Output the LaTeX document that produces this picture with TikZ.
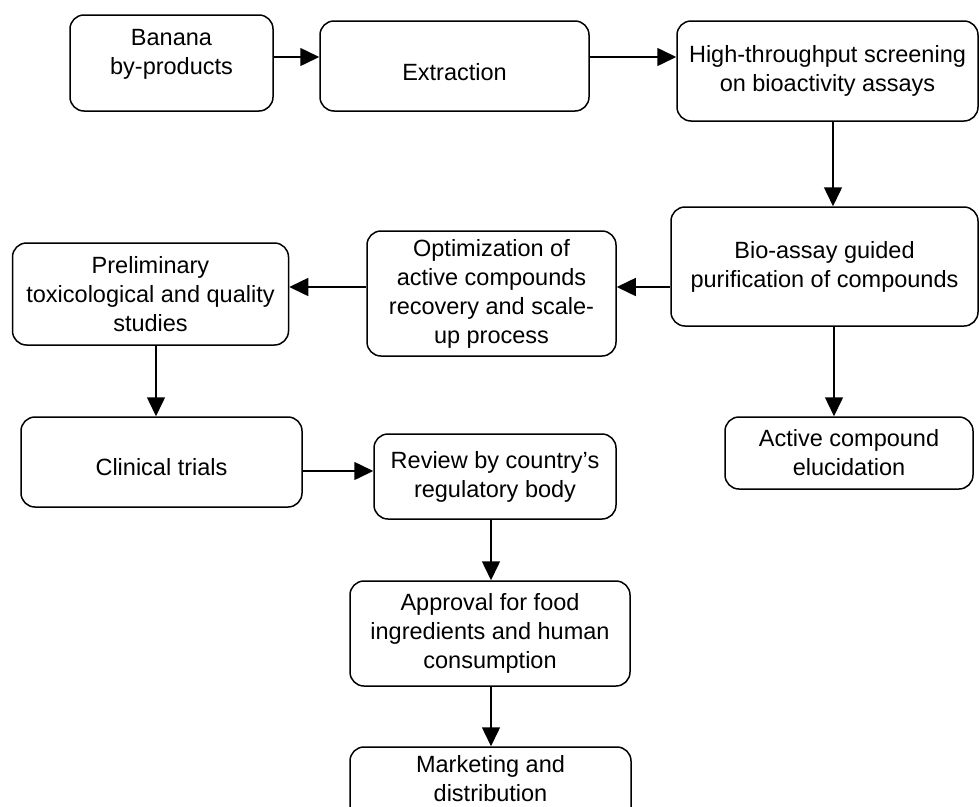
\documentclass[tikz,border=0pt]{standalone}
\usepackage{fontspec}
\setmainfont{Liberation Sans}
\usetikzlibrary{arrows.meta}
\tikzset{
    flow-box/.style = {draw=black, fill=white, line width=1.5pt, rectangle, rounded corners=14pt, align=center, inner sep=4pt, font=\fontsize{23.5}{29}\selectfont},
    flow-arrow/.style = {line width=1.5pt, -{Triangle[length=19pt, width=18pt]}},
}

\begin{document}
\begin{tikzpicture}[x=1pt, y=-1pt]
\clip (0,0) rectangle (979,806);
\fill[white] (0,0) rectangle (979,806);

% top row
\node[flow-box, minimum width=203pt, minimum height=96pt, text depth=23pt] (banana) at (171.5,63) {Banana\\by-products};
\node[flow-box, minimum width=269pt, minimum height=90pt, text height=29pt] (extraction) at (454.5,66) {Extraction};
\node[flow-box, minimum width=301pt, minimum height=100pt] (screening) at (827.5,71) {High-throughput screening\\on bioactivity assays};

% middle row
\node[flow-box, minimum width=307pt, minimum height=119pt] (purification) at (824.5,266.5) {Bio-assay guided\\purification of compounds};
\node[flow-box, minimum width=249pt, minimum height=125pt] (optimization) at (491.5,293.5) {Optimization of\\active compounds\\recovery and scale-\\up process};
\node[flow-box, minimum width=276pt, minimum height=102pt] (preliminary) at (150.5,294) {Preliminary\\toxicological and quality\\studies};

% lower part
\node[flow-box, minimum width=281pt, minimum height=90pt, text height=27pt] (clinical) at (161.5,462) {Clinical trials};
\node[flow-box, minimum width=248pt, minimum height=72pt] (elucidation) at (849,453) {Active compound\\elucidation};
\node[flow-box, minimum width=242pt, minimum height=85pt] (review) at (495,476.5) {Review by country's\\regulatory body};
\node[flow-box, minimum width=280pt, minimum height=105pt] (approval) at (490,633.5) {Approval for food\\ingredients and human\\consumption};
\node[flow-box, minimum width=281pt, minimum height=90pt, text depth=27pt] (marketing) at (490.5,792) {Marketing and\\distribution};

% arrows
\draw[flow-arrow] ([yshift=6pt]banana.east) -- ([yshift=9pt]extraction.west);
\draw[flow-arrow] ([yshift=9pt]extraction.east) -- ([yshift=14pt]screening.west);
\draw[flow-arrow] ([xshift=5.5pt]screening.south) -- ([xshift=8.5pt]purification.north);
\draw[flow-arrow] ([yshift=-20.5pt]purification.west) -- ([yshift=6.5pt]optimization.east);
\draw[flow-arrow] ([yshift=6.5pt]optimization.west) -- ([yshift=7pt]preliminary.east);
\draw[flow-arrow] ([xshift=9.5pt]purification.south) -- ([xshift=-15pt]elucidation.north);
\draw[flow-arrow] ([xshift=5.5pt]preliminary.south) -- ([xshift=-5.5pt]clinical.north);
\draw[flow-arrow] ([yshift=-9pt]clinical.east) -- ([yshift=5.5pt]review.west);
\draw[flow-arrow] ([xshift=-4pt]review.south) -- ([xshift=1pt]approval.north);
\draw[flow-arrow] ([xshift=1pt]approval.south) -- ([xshift=0.5pt]marketing.north);
\end{tikzpicture}
\end{document}
